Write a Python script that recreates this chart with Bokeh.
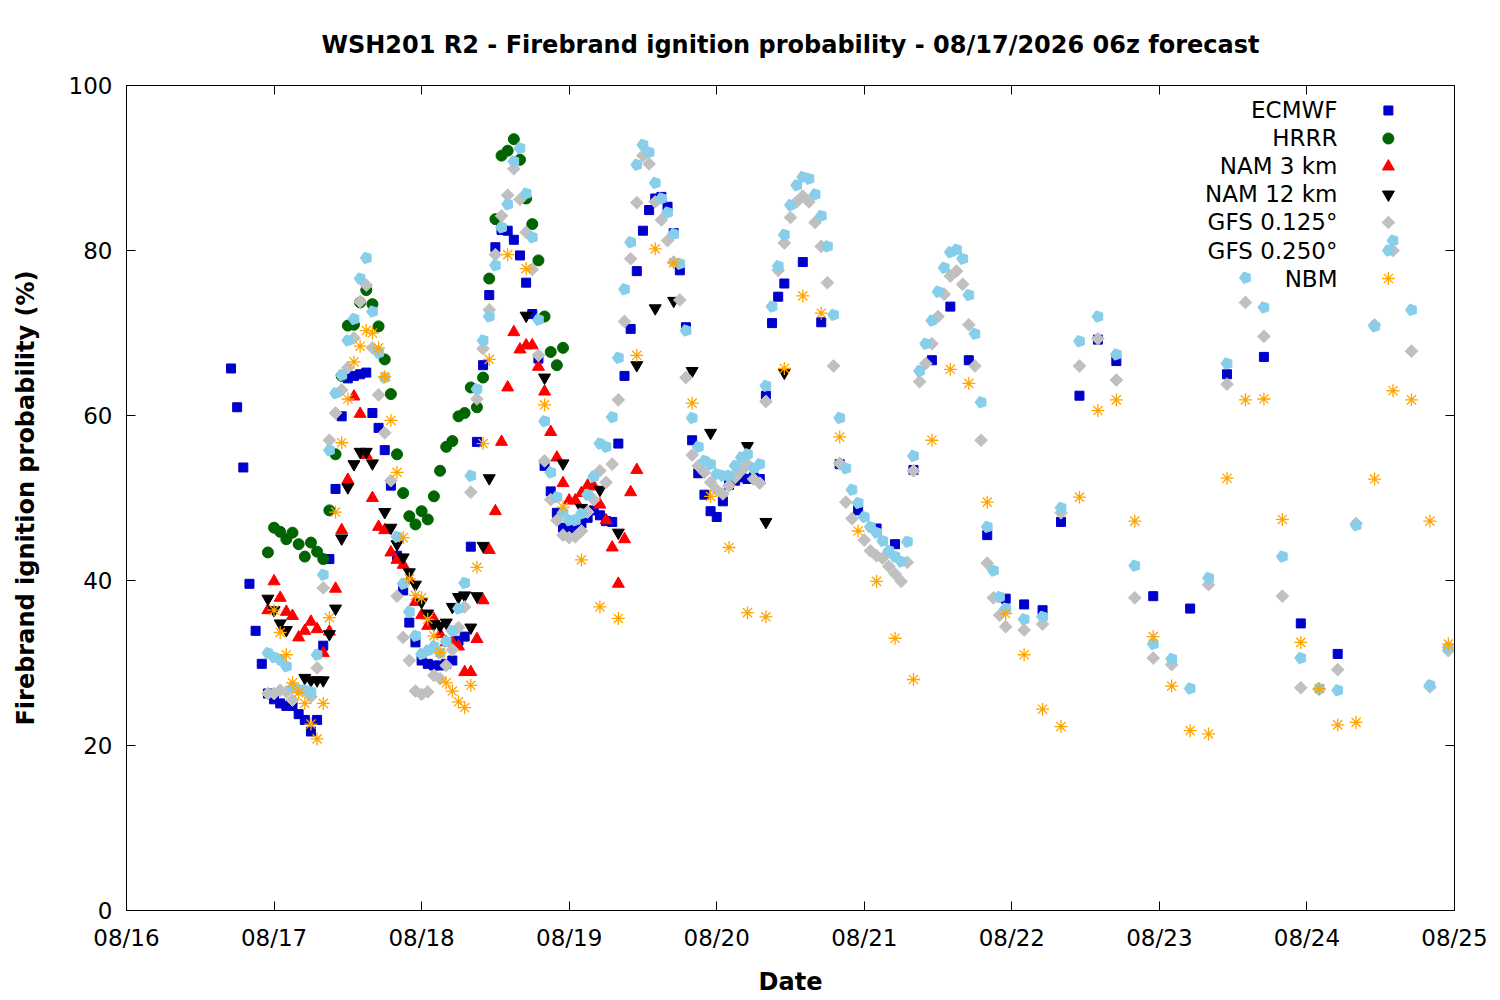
import math

from bokeh.plotting import figure
from bokeh.models import Range1d, FixedTicker, LinearAxis
from bokeh.core.properties import value
from bokeh.embed import file_html
from bokeh.resources import INLINE

FONT = "DejaVu Sans"

title_text = "WSH201 R2 - Firebrand ignition probability - 08/17/2026 06z forecast"
day_ticks = [0, 1, 2, 3, 4, 5, 6, 7, 8, 9]
day_labels = ["08/16", "08/17", "08/18", "08/19", "08/20", "08/21", "08/22", "08/23", "08/24", "08/25"]
prob_ticks = [0, 20, 40, 60, 80, 100]

# valid times, hours after 08/16 00 (local)
ecmwf_hours = list(range(17, 108)) + list(range(110, 162, 3)) + list(range(167, 198, 6))
ecmwf_vals = [
    65.7, 61.0, 53.7, 39.6, 33.9, 29.9, 26.3, 25.6, 25.1, 24.8,
    24.8, 23.8, 23.1, 21.7, 23.1, 32.1, 42.6, 51.1, 59.9, 64.5,
    64.8, 65.0, 65.2, 60.3, 58.5, 55.8, 51.5, 43.0, 38.8, 34.9,
    32.5, 30.3, 29.9, 29.7, 29.7, 29.9, 30.3, 32.7, 33.2, 44.1,
    56.8, 66.1, 74.6, 80.4, 82.5, 82.4, 81.3, 79.4, 76.1, 72.3,
    66.9, 53.9, 50.8, 48.2, 46.4, 46.1, 46.3, 46.9, 47.6, 48.5,
    47.9, 47.2, 47.1, 56.6, 64.8, 70.5, 77.5, 82.4, 84.9, 86.3,
    86.5, 85.3, 82.1, 77.6, 70.7, 57.0, 53.0, 50.4, 48.4, 47.7,
    49.6, 51.6, 52.1, 52.5, 52.3, 52.5, 52.3, 62.4, 71.2, 74.4,
    76.0,
    78.6, 71.3, 54.1, 48.5, 46.3, 44.4, 53.4, 66.7, 73.2, 66.7,
    45.5, 37.8, 37.1, 36.4, 47.1, 62.4, 69.2, 66.6,
    38.1, 36.6, 65.0, 67.1, 34.8, 31.1,
]

hrrr_hours = list(range(23, 72))
hrrr_vals = [
    43.4, 46.4, 45.9, 45.0, 45.8, 44.4, 42.9, 44.6, 43.5, 42.6,
    48.5, 55.3, 64.8, 70.9, 71.0, 73.7, 75.2, 73.5, 70.8, 66.8,
    62.6, 55.3, 50.6, 47.8, 46.8, 48.4, 47.4, 50.2, 53.3, 56.2,
    56.9, 59.9, 60.3, 63.4, 61.0, 64.6, 76.6, 83.8, 91.5, 92.1,
    93.5, 91.0, 86.3, 83.2, 78.8, 72.0, 67.7, 66.1, 68.2,
]

nam3_hours = list(range(23, 84))
nam3_vals = [
    36.4, 39.9, 37.9, 36.2, 35.7, 33.1, 33.9, 35.0, 34.1, 31.2,
    33.8, 39.0, 46.1, 52.2, 62.3, 60.2, 55.2, 50.0, 46.5, 46.1,
    43.4, 42.5, 41.9, 40.1, 37.4, 35.8, 34.5, 35.3, 33.5, 32.5,
    32.5, 32.0, 28.9, 28.9, 32.9, 37.6, 43.7, 48.4, 56.8, 63.4,
    70.1, 68.0, 68.5, 68.5, 65.9, 62.9, 58.0, 54.9, 51.8, 49.7,
    49.7, 50.6, 51.5, 51.4, 49.2, 47.3, 44.0, 39.6, 45.0, 50.7, 53.4,
]

nam12_hours = list(range(23, 60)) + list(range(65, 108, 3))
nam12_vals = [
    37.8, 36.4, 34.8, 34.0, None, None, 28.2, 27.9, 27.9, 27.9,
    33.5, 36.6, 45.1, 51.3, 54.1, 55.6, 55.6, 54.2, None, 48.3,
    46.4, 44.4, 42.8, 41.0, 39.5, 37.4, 36.0, 34.7, 34.5, 34.9,
    36.8, 38.0, 38.2, 34.3, 38.1, 44.2, 52.4,
    72.1, 64.6, 54.2, 48.8, 51.0, 45.8, 66.1, 73.0, 73.9, 65.4,
    57.9, None, 56.3, 47.1, 65.2,
]

gfs_hours = list(range(23, 144)) + list(range(146, 216, 3))
gfs125_vals = [
    26.3, 26.3, 26.7, 26.5, 25.5, None, None, 25.9, 29.4, 39.1,
    57.0, 60.3, 63.1, 65.8, 69.4, 73.8, 75.8, 68.2, 62.5, 57.9,
    52.1, 38.1, 33.1, 30.3, 26.6, 26.2, 26.5, 28.5, 28.1, 29.7,
    31.6, 34.3, 36.8, 50.7, 62.0, 68.1, 72.8, 79.5, 84.2, 86.7,
    89.9, 86.2, 82.2, 77.7, 67.3, 54.5, 49.8, 47.3, 45.5, 45.2,
    45.3, 46.0, 48.3, 49.8, 53.3, 51.9, 54.1, 61.9, 71.4, 79.0,
    85.8, 91.5, 90.5, 85.9, 83.7, 81.2, 78.6, 74.0, 64.6, 55.2,
    53.9, 53.1, 51.9, 51.0, 50.5, 51.5, 52.5, 53.3, 54.1, 52.3,
    51.8, 61.7, None, 77.6, 80.9, 84.0, 85.9, 86.6, 85.9, 83.4,
    80.5, 76.1, 66.0, 54.2, 49.5, 47.5, None, 44.9, 43.6, 43.0,
    42.7, 41.7, 40.8, 39.9, 42.2, 53.3, 64.1, 66.3, 68.7, 72.0,
    74.7, 76.9, 77.5, 75.9, 71.0, 66.0, 57.0, 42.1, 37.9, 35.8,
    34.4,
    34.0, 34.7, 48.2, 66.0, 69.3, 64.3, 37.9, 30.6, 29.8, None,
    39.5, 63.8, 73.7, 69.6, 38.1, 27.0, 26.8, 29.2, 46.9, 71.0,
    80.0, 67.8, 27.1, 31.5,
]
gfs250_vals = [
    31.2, 30.7, 30.4, 29.6, 27.0, 26.8, 26.7, 26.5, 31.0, 40.7,
    55.8, 62.7, 64.9, 69.1, 71.7, 76.6, 79.1, 72.6, 67.6, 64.6,
    None, 45.3, 39.6, 36.2, 33.3, 31.1, 31.5, 32.0, 31.2, 32.6,
    33.9, 36.6, 39.7, 52.7, 63.2, 69.1, 72.0, 78.2, 82.8, 85.6,
    90.8, 92.4, 86.9, 81.6, 71.6, 59.3, 53.1, 50.1, 48.2, 47.3,
    47.3, 48.1, 50.4, 52.6, 56.6, 56.2, 59.8, 67.0, 75.3, 81.0,
    90.4, 92.8, 91.9, 88.2, 86.3, 84.6, 82.0, 78.4, 70.3, 59.7,
    56.2, 54.5, 54.1, 52.9, 52.7, 52.7, 53.9, 54.9, 55.3, 53.6,
    54.1, 63.6, 73.2, 78.1, 81.9, 85.5, 87.9, 88.9, 88.7, 86.8,
    84.2, 80.5, 72.2, 59.7, 53.6, 51.0, 49.4, 47.7, 46.5, 45.8,
    44.8, 43.6, 42.9, 42.3, 44.7, 55.1, 65.4, 68.7, 71.5, 75.0,
    77.9, 79.8, 80.1, 79.0, 74.6, 69.9, 61.6, 46.5, 41.2, 38.0,
    36.6,
    35.3, 35.6, 48.8, 69.0, 72.0, 67.4, 41.8, 32.3, 30.5, 26.9,
    40.3, 66.3, 76.7, 73.1, 42.9, 30.6, 26.9, 26.7, 46.7, 70.8,
    81.2, 72.8, 27.3, 31.9,
]

nbm_hours = list(range(24, 60)) + list(range(62, 216, 3))
nbm_vals = [
    36.4, 33.7, 31.0, 27.6, 26.4, 25.1, 22.6, 20.8, 25.1, 35.5,
    48.3, 56.7, 62.0, 66.5, 68.4, 70.3, 70.0, 68.2, 64.7, 59.4,
    53.1, 45.2, 40.2, 38.2, 37.9, 35.3, 33.3, 31.3, 27.6, 26.6,
    25.3, 24.6, 27.3, 41.6, 56.6, 66.8,
    79.5, 77.8, 61.3, 48.9, 42.5, 36.8, 35.4, 67.3, 80.2, 78.5,
    61.5, 50.2, 44.0, 36.1, 35.6, 65.7, 74.5, 72.4, 57.4, 46.0,
    39.9, 33.0, 28.0, 57.0, 65.6, 63.9, 49.5, 36.0, 31.0, 24.4,
    22.3, 50.1, 60.6, 61.9, 47.2, 33.2, 27.2, 21.8, 21.4, 52.4,
    61.9, 62.0, 47.4, 32.5, 26.9, 22.5, 22.8, 52.3, 63.0, 61.9,
    47.2, 32.3,
]

legend_names = ["ECMWF", "HRRR", "NAM 3 km", "NAM 12 km", "GFS 0.125°", "GFS 0.250°", "NBM"]


def to_days(hours):
    return [h / 24.0 for h in hours]


def clean(vals):
    return [float("nan") if v is None else v for v in vals]


for hrs, vals in [(ecmwf_hours, ecmwf_vals), (hrrr_hours, hrrr_vals), (nam3_hours, nam3_vals),
                  (nam12_hours, nam12_vals), (gfs_hours, gfs125_vals), (gfs_hours, gfs250_vals),
                  (nbm_hours, nbm_vals)]:
    if len(hrs) != len(vals):
        raise ValueError("length mismatch %d %d" % (len(hrs), len(vals)))

p = figure(frame_width=1328, frame_height=825, width=1500, height=1000,
           min_border_left=126, min_border_right=46, min_border_top=85, min_border_bottom=90,
           x_range=Range1d(0, 9), y_range=Range1d(0, 100),
           title=title_text, output_backend="svg", toolbar_location=None, tools="")

p.title.align = "center"
p.title.text_font = FONT
p.title.text_font_size = "24px"
p.title.text_font_style = "bold"
p.title.text_color = "black"
p.title.standoff = 54
p.grid.visible = False
p.outline_line_color = "black"
p.background_fill_color = "white"
p.border_fill_color = "white"


def style_axis(ax, show_labels):
    ax.axis_line_color = "black"
    ax.major_tick_line_color = "black"
    ax.major_tick_in = 9
    ax.major_tick_out = 0
    ax.minor_tick_line_color = None
    ax.major_label_text_font = FONT
    ax.axis_label_text_font = FONT
    ax.axis_label_text_font_size = "24px"
    ax.axis_label_text_font_style = "bold"
    ax.axis_label_text_color = "black"
    if show_labels:
        ax.major_label_text_font_size = "23px"
        ax.major_label_text_color = "black"
    else:
        # mirror ticks only
        ax.major_label_text_font_size = "1px"
        ax.major_label_text_color = None
        ax.major_label_standoff = 0


p.xaxis.ticker = FixedTicker(ticks=day_ticks)
p.xaxis.major_label_overrides = {d: lab for d, lab in zip(day_ticks, day_labels)}
p.xaxis.axis_label = "Date"
style_axis(p.xaxis[0], True)
p.xaxis.major_label_standoff = 14
p.xaxis.axis_label_standoff = 14

p.yaxis.ticker = FixedTicker(ticks=prob_ticks)
p.yaxis.axis_label = "Firebrand ignition probability (%)"
style_axis(p.yaxis[0], True)
p.yaxis.major_label_standoff = 14
p.yaxis.axis_label_standoff = 26

top_axis = LinearAxis(ticker=FixedTicker(ticks=day_ticks))
style_axis(top_axis, False)
p.add_layout(top_axis, "above")
right_axis = LinearAxis(ticker=FixedTicker(ticks=prob_ticks))
style_axis(right_axis, False)
p.add_layout(right_axis, "right")

# series, drawn in legend order
p.scatter(to_days(ecmwf_hours), clean(ecmwf_vals), marker="square", size=9,
          fill_color="#0000cc", line_color="#0000cc")
p.scatter(to_days(hrrr_hours), clean(hrrr_vals), marker="circle", size=11,
          fill_color="#006400", line_color="#006400")
p.scatter(to_days(nam3_hours), clean(nam3_vals), marker="triangle", size=12,
          fill_color="#ff0000", line_color="#ff0000")
p.scatter(to_days(nam12_hours), clean(nam12_vals), marker="inverted_triangle", size=12,
          fill_color="black", line_color="black")
p.scatter(to_days(gfs_hours), clean(gfs125_vals), marker="square", angle=math.pi / 4, size=9,
          fill_color="#c0c0c0", line_color="#c0c0c0")
p.ngon(to_days(gfs_hours), clean(gfs250_vals), radius=6, radius_units="screen", n=5,
       angle=math.pi / 2, fill_color="#87ceeb", line_color="#87ceeb")
p.scatter(to_days(nbm_hours), clean(nbm_vals), marker="asterisk", size=13,
          line_color="#ffa500", line_width=1.3)

# key, top right, text then sample
key_text_x = 8.207
key_mark_x = 8.552
key_top = 96.97
key_step = 3.394
key_y = [key_top - i * key_step for i in range(len(legend_names))]
p.text([key_text_x] * len(legend_names), key_y, text=legend_names,
       text_align="right", text_baseline="middle",
       text_font=value(FONT), text_font_size="23px", text_color="black")
p.scatter([key_mark_x], [key_y[0]], marker="square", size=9, fill_color="#0000cc", line_color="#0000cc")
p.scatter([key_mark_x], [key_y[1]], marker="circle", size=11, fill_color="#006400", line_color="#006400")
p.scatter([key_mark_x], [key_y[2]], marker="triangle", size=12, fill_color="#ff0000", line_color="#ff0000")
p.scatter([key_mark_x], [key_y[3]], marker="inverted_triangle", size=12, fill_color="black", line_color="black")
p.scatter([key_mark_x], [key_y[4]], marker="square", angle=math.pi / 4, size=9,
          fill_color="#c0c0c0", line_color="#c0c0c0")
p.ngon([key_mark_x], [key_y[5]], radius=6, radius_units="screen", n=5, angle=math.pi / 2,
       fill_color="#87ceeb", line_color="#87ceeb")
p.scatter([key_mark_x], [key_y[6]], marker="asterisk", size=13, line_color="#ffa500", line_width=1.3)

open("out.html", "w").write(file_html(p, INLINE))
